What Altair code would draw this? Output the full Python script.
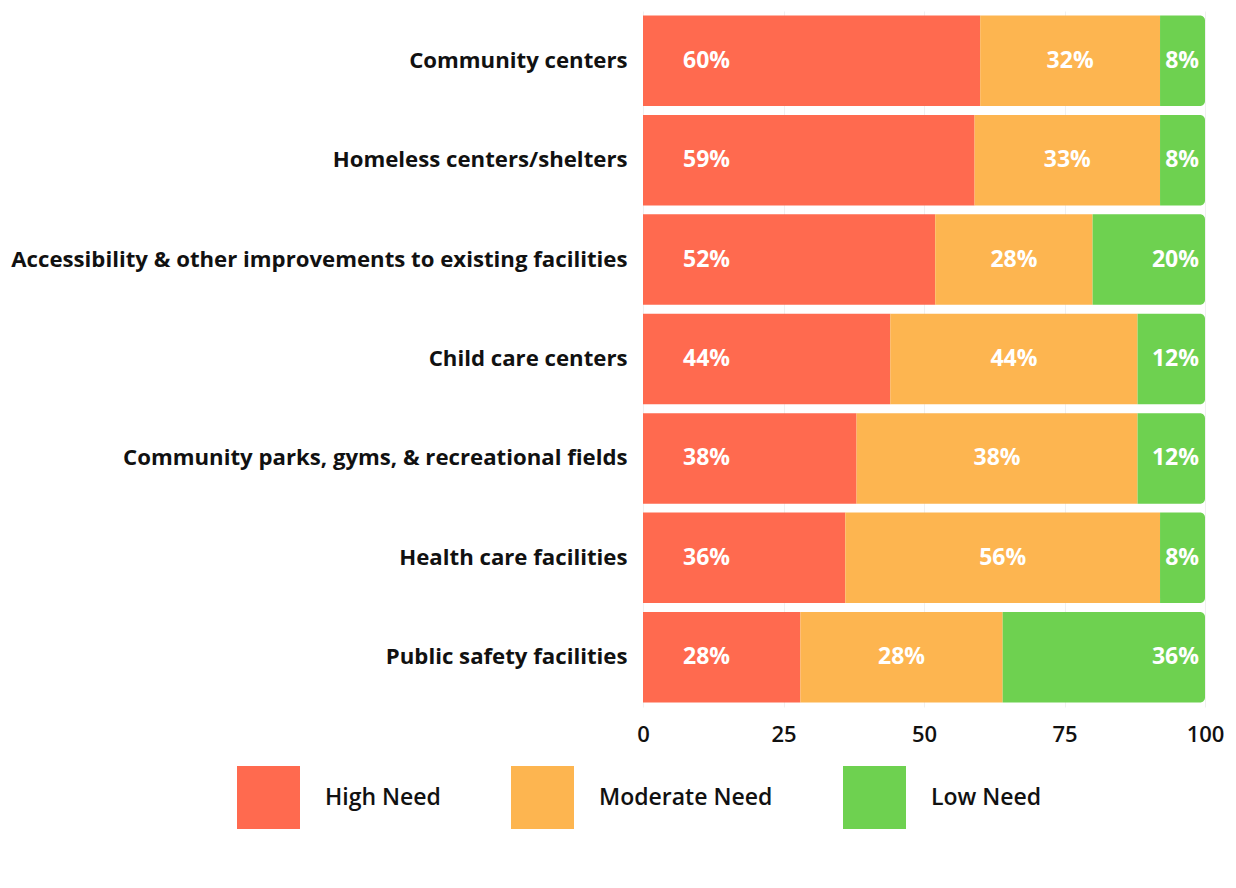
import altair as alt
import pandas as pd

categories = [
    "Community centers",
    "Homeless centers/shelters",
    "Accessibility & other improvements to existing facilities",
    "Child care centers",
    "Community parks, gyms, & recreational fields",
    "Health care facilities",
    "Public safety facilities",
]
levels = ["High Need", "Moderate Need", "Low Need"]
colors = ["#FF6A4F", "#FDB550", "#6ED150"]

high = [60, 59, 52, 44, 38, 36, 28]
moderate = [32, 33, 28, 44, 50, 56, 36]
low = [8, 8, 20, 12, 12, 8, 36]

labels_high = ["60%", "59%", "52%", "44%", "38%", "36%", "28%"]
labels_moderate = ["32%", "33%", "28%", "44%", "38%", "56%", "28%"]
labels_low = ["8%", "8%", "20%", "12%", "12%", "8%", "36%"]

rows = []
for i, c in enumerate(categories):
    vals = [high[i], moderate[i], low[i]]
    labs = [labels_high[i], labels_moderate[i], labels_low[i]]
    start = 0
    for j, lv in enumerate(levels):
        end = start + vals[j]
        rows.append({"category": c, "level": lv, "order": j,
                     "start": start, "end": end, "mid": (start + end) / 2,
                     "label": labs[j]})
        start = end
df = pd.DataFrame(rows)

FONT = "Open Sans"

y_enc = alt.Y("category:N", sort=categories, title=None,
              scale=alt.Scale(paddingInner=0.09, paddingOuter=0.045),
              axis=alt.Axis(labelFontSize=22.2, labelFontWeight="bold", labelColor="#111111",
                            labelFont=FONT, labelPadding=16, ticks=False, domain=False,
                            labelLimit=800))
x_enc = alt.X("start:Q", title=None,
              scale=alt.Scale(domain=[0, 100], nice=False),
              axis=alt.Axis(values=[0, 25, 50, 75, 100], labelFontSize=22, labelFont=FONT,
                            labelFontWeight=600, labelColor="#111111", ticks=False, domain=False,
                            labelPadding=17, grid=True, gridColor="#f0f0f0",
                            labelFlush=False))
color_enc = alt.Color("level:N", sort=levels, title=None,
                      scale=alt.Scale(domain=levels, range=colors),
                      legend=alt.Legend(orient="none", direction="horizontal",
                                        legendX=-406, legendY=755, padding=0,
                                        symbolType="square", symbolSize=3969,
                                        symbolStrokeWidth=0, symbolOpacity=1,
                                        labelFontSize=23, labelFont=FONT, labelFontWeight=600,
                                        labelColor="#111111", labelOffset=25,
                                        columnPadding=70, labelLimit=300))

base = alt.Chart(df)

bars_main = base.transform_filter(alt.datum.level != "Low Need").mark_bar().encode(
    y=y_enc, x=x_enc, x2="end:Q", color=color_enc)
bars_low = base.transform_filter(alt.datum.level == "Low Need").mark_bar(
    cornerRadiusTopRight=5, cornerRadiusBottomRight=5).encode(
    y=y_enc, x=x_enc, x2="end:Q", color=color_enc)

txt_style = dict(color="white", fontSize=23, fontWeight="bold", font=FONT, baseline="middle")
t_high = base.transform_filter(alt.datum.level == "High Need").mark_text(
    align="left", dx=40, **txt_style).encode(
    y=alt.Y("category:N", sort=categories), x=alt.X("start:Q"), text="label:N")
t_mod = base.transform_filter(alt.datum.level == "Moderate Need").mark_text(
    align="center", **txt_style).encode(
    y=alt.Y("category:N", sort=categories), x=alt.X("mid:Q"), text="label:N")
t_low = base.transform_filter(alt.datum.level == "Low Need").mark_text(
    align="right", dx=-6, **txt_style).encode(
    y=alt.Y("category:N", sort=categories), x=alt.X("end:Q"), text="label:N")

chart = alt.layer(bars_main, bars_low, t_high, t_mod, t_low).properties(
    width=562, height=696, background="white",
    padding={"left": 10, "top": 11, "right": 5, "bottom": 5},
).configure_view(stroke=None)

chart.save("out.html", embed_options={"renderer": "svg", "actions": False})
